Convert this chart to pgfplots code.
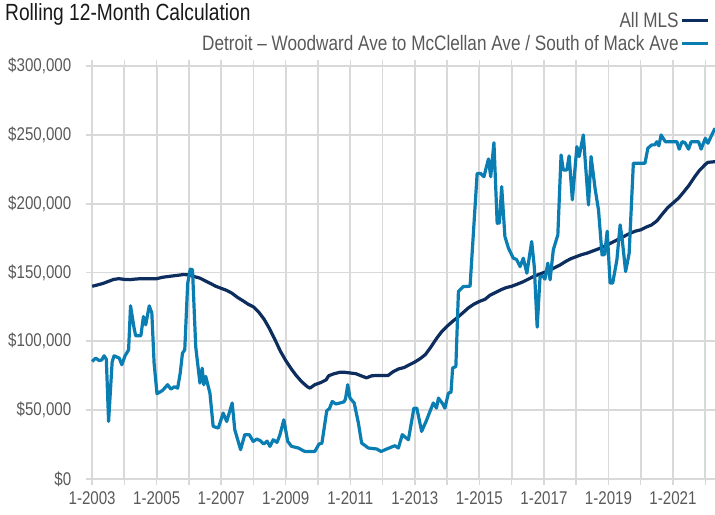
\documentclass[border=0pt]{standalone}
\usepackage{fontspec}
\setmainfont{Liberation Sans}[FakeStretch=0.82]
\usepackage{pgfplots}
\pgfplotsset{compat=1.18}
\definecolor{navy}{HTML}{0C2D5E}
\definecolor{dblue}{HTML}{0A7DB2}
\definecolor{gridc}{HTML}{D9D9D9}
\definecolor{labc}{HTML}{595959}
\begin{document}
\begin{tikzpicture}
\useasboundingbox (0,0) rectangle (715bp,515bp);
\node[anchor=base west, inner sep=0pt, text=black!90] at (5bp,494bp) {\fontsize{23.5}{26}\selectfont Rolling 12-Month Calculation};
\begin{axis}[
  at={(86bp,36bp)}, anchor=south west,
  scale only axis, width=629bp, height=413bp,
  xmin=2002.81, xmax=2022.3, ymin=0, ymax=300000,
  axis line style={draw=none},
  scaled y ticks=false, scaled x ticks=false,
  xtick={2003,2004,...,2022},
  xticklabels={1-2003,,1-2005,,1-2007,,1-2009,,1-2011,,1-2013,,1-2015,,1-2017,,1-2019,,1-2021,},
  ytick={0,50000,100000,150000,200000,250000,300000},
  yticklabels={{\$0},{\$50,000},{\$100,000},{\$150,000},{\$200,000},{\$250,000},{\$300,000}},
  grid=major,
  grid style={gridc, line width=1.8bp},
  tick align=outside,
  xtick style={gridc, line width=1.5bp},
  x tick style={/pgfplots/major tick length=6bp},
  ytick style={draw=none},
  tick label style={font=\fontsize{18.5}{20}\selectfont, text=labc},
  yticklabel style={xshift=-7bp},
  xticklabel style={yshift=-5bp},
  clip=false,
  legend style={at={(rel axis cs:1,1)}, anchor=south east, xshift=-5bp, yshift=12bp,
    draw=none, fill=none, font=\fontsize{21}{24}\selectfont, text=labc,
    row sep=2bp, inner sep=0pt},
  legend cell align=right, legend plot pos=right,
  legend image code/.code={\draw[#1] (0bp,0bp) -- (26bp,0bp);},
]
\addplot[navy, line width=3.2bp, line join=round] coordinates {
(2003.00,140000)(2003.17,141000)(2003.33,142000)(2003.50,143500)(2003.67,145000)(2003.83,145500)
(2004.00,145000)(2004.17,144800)(2004.33,145200)(2004.50,145500)(2004.67,145500)(2004.83,145500)
(2005.00,145500)(2005.17,146500)(2005.33,147000)(2005.50,147500)(2005.67,148000)(2005.83,148500)
(2006.00,148300)(2006.17,147000)(2006.33,146000)(2006.50,144000)(2006.67,142000)(2006.83,140000)
(2007.00,138500)(2007.17,137000)(2007.33,135000)(2007.50,132000)(2007.67,129500)(2007.83,127000)
(2008.00,125000)(2008.17,121000)(2008.33,116000)(2008.50,109000)(2008.67,101000)(2008.83,93000)
(2009.00,86000)(2009.17,80000)(2009.33,75000)(2009.50,70500)(2009.67,67000)(2009.75,66000)
(2009.90,68500)(2010.08,70000)(2010.25,72000)(2010.33,75000)(2010.50,76500)(2010.67,77500)
(2010.83,77500)(2011.00,77000)(2011.17,76500)(2011.33,75000)(2011.50,73500)(2011.67,75000)
(2011.83,75200)(2012.00,75200)(2012.17,75200)(2012.33,78000)(2012.50,80000)(2012.67,81000)
(2012.83,83000)(2013.00,85000)(2013.17,87500)(2013.33,90500)(2013.50,96000)(2013.67,102000)
(2013.83,107000)(2014.00,111000)(2014.17,114500)(2014.33,117500)(2014.50,121000)(2014.67,124500)
(2014.83,127000)(2015.00,129000)(2015.17,130500)(2015.33,133500)(2015.50,135500)(2015.67,137500)
(2015.83,139000)(2016.00,140000)(2016.17,141500)(2016.33,143000)(2016.50,145000)(2016.67,147000)
(2016.83,148500)(2017.00,150000)(2017.17,151500)(2017.33,153500)(2017.50,155500)(2017.67,158000)
(2017.83,160000)(2018.00,161500)(2018.17,163000)(2018.33,164000)(2018.50,165500)(2018.67,167000)
(2018.83,168500)(2019.00,170500)(2019.17,172500)(2019.33,174500)(2019.50,176500)(2019.67,178500)
(2019.83,180000)(2020.00,181000)(2020.17,183000)(2020.33,184500)(2020.50,187500)(2020.67,192500)
(2020.83,197000)(2021.00,200500)(2021.17,204000)(2021.33,208500)(2021.50,213500)(2021.67,219500)
(2021.83,224500)(2022.00,228500)(2022.08,230000)(2022.30,230500)
};
\addlegendentry{All MLS}
\addplot[dblue, line width=3.2bp, line join=round] coordinates {
(2003.00,85400)(2003.11,87800)(2003.22,86000)(2003.30,86500)(2003.37,89500)(2003.44,87000)
(2003.51,41800)(2003.62,85000)(2003.68,89500)(2003.84,87800)(2003.92,83000)(2004.02,89500)
(2004.13,93800)(2004.19,125800)(2004.30,109600)(2004.35,104000)(2004.51,104000)(2004.59,118000)
(2004.66,112000)(2004.77,125800)(2004.85,120500)(2004.92,84200)(2005.01,61900)(2005.18,64300)
(2005.34,68500)(2005.44,65300)(2005.55,67000)(2005.65,66000)(2005.73,77000)(2005.80,91500)
(2005.87,93800)(2005.96,142000)(2006.04,152400)(2006.11,152000)(2006.21,96000)(2006.34,69700)
(2006.41,80500)(2006.46,68500)(2006.52,74500)(2006.65,62400)(2006.75,38200)(2006.91,37000)
(2007.06,47900)(2007.17,41800)(2007.34,55200)(2007.42,35800)(2007.60,21300)(2007.73,32200)
(2007.87,32200)(2007.99,27300)(2008.10,29000)(2008.20,28000)(2008.32,25400)(2008.42,27500)
(2008.51,23700)(2008.61,28500)(2008.73,26600)(2008.82,32200)(2008.94,43000)(2009.06,27300)
(2009.18,23700)(2009.39,22500)(2009.59,20000)(2009.90,20000)(2010.03,25400)(2010.12,26000)
(2010.27,49600)(2010.35,51000)(2010.44,56300)(2010.55,54500)(2010.68,55200)(2010.80,56000)
(2010.85,58000)(2010.92,68500)(2010.99,58800)(2011.12,55200)(2011.25,40700)(2011.35,26100)
(2011.56,22500)(2011.82,21800)(2011.95,20000)(2012.13,21800)(2012.38,24200)(2012.49,22500)
(2012.61,32200)(2012.80,28500)(2012.97,51500)(2013.06,51500)(2013.21,34600)(2013.35,42000)
(2013.57,55200)(2013.67,51500)(2013.73,58800)(2013.85,55000)(2013.93,51500)(2014.04,62400)
(2014.12,63000)(2014.17,80600)(2014.27,81700)(2014.35,136200)(2014.50,139800)(2014.71,140000)
(2014.93,222000)(2015.03,222000)(2015.14,219600)(2015.28,232500)(2015.35,219600)(2015.45,244300)
(2015.55,185800)(2015.62,186000)(2015.69,212400)(2015.79,176100)(2015.90,167700)(2016.05,160400)
(2016.15,159500)(2016.26,154300)(2016.36,160400)(2016.47,149500)(2016.62,172500)(2016.70,154300)
(2016.79,110300)(2016.88,147000)(2016.96,147500)(2017.03,145200)(2017.12,156800)(2017.19,144700)
(2017.29,166500)(2017.43,177300)(2017.53,235400)(2017.60,224500)(2017.71,224500)(2017.78,234700)
(2017.88,202800)(2018.02,241400)(2018.09,234200)(2018.22,249900)(2018.38,199100)(2018.46,234200)
(2018.59,210000)(2018.69,195500)(2018.80,162800)(2018.88,163000)(2018.96,180000)(2019.05,142300)
(2019.13,142300)(2019.26,159200)(2019.36,184600)(2019.42,175000)(2019.53,150700)(2019.64,164000)
(2019.77,229400)(2020.13,229400)(2020.22,240300)(2020.34,242700)(2020.43,242700)(2020.50,245000)
(2020.56,242000)(2020.63,249900)(2020.76,245000)(2021.12,245000)(2021.19,239600)(2021.28,245000)
(2021.37,244300)(2021.48,239600)(2021.56,245000)(2021.79,245000)(2021.87,239600)(2022.00,247500)
(2022.08,243900)(2022.20,249900)(2022.30,254800)
};
\addlegendentry{Detroit -- Woodward Ave to McClellan Ave / South of Mack Ave}
\end{axis}
\end{tikzpicture}
\end{document}
